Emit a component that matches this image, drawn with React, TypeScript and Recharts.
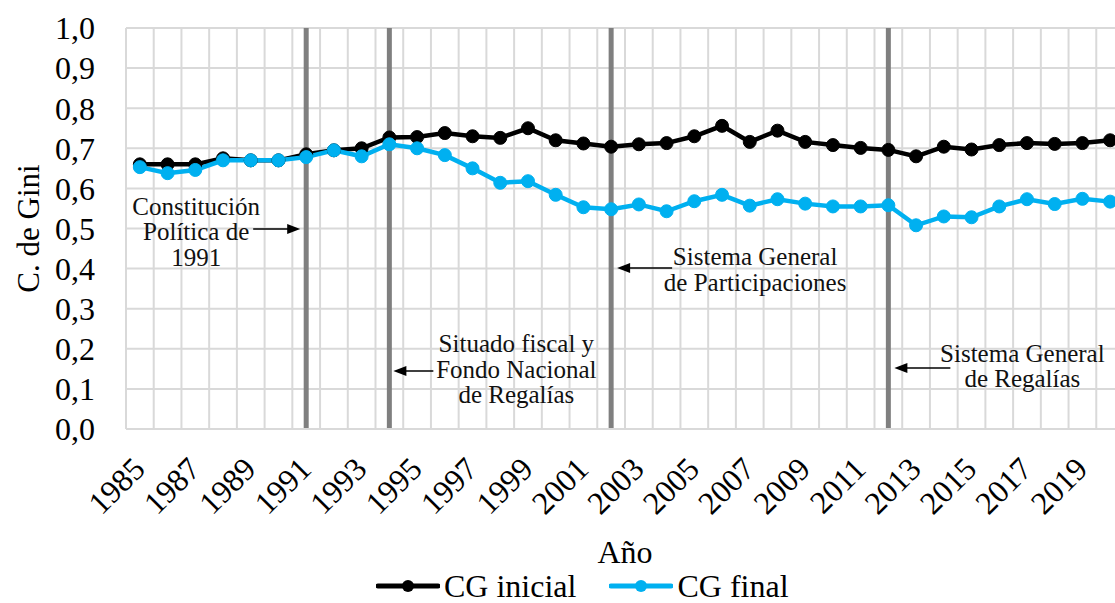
import { LineChart, Line, XAxis, YAxis, CartesianGrid, ReferenceLine, Legend } from "recharts";

const years = [
  "1985", "1986", "1987", "1988", "1989", "1990", "1991", "1992", "1993", "1994",
  "1995", "1996", "1997", "1998", "1999", "2000", "2001", "2002", "2003", "2004",
  "2005", "2006", "2007", "2008", "2009", "2010", "2011", "2012", "2013", "2014",
  "2015", "2016", "2017", "2018", "2019", "2020",
];

const cgInicial = [
  0.66, 0.66, 0.66, 0.675, 0.67, 0.67, 0.685, 0.695, 0.7, 0.727,
  0.728, 0.738, 0.73, 0.726, 0.75, 0.72, 0.712, 0.704, 0.71, 0.713,
  0.73, 0.756, 0.716, 0.744, 0.716, 0.708, 0.701, 0.696, 0.68, 0.704,
  0.697, 0.708, 0.713, 0.711, 0.713, 0.72,
];

const cgFinal = [
  0.653, 0.638, 0.646, 0.67, 0.67, 0.67, 0.678, 0.695, 0.68, 0.71,
  0.7, 0.683, 0.65, 0.614, 0.618, 0.584, 0.553, 0.548, 0.56, 0.543,
  0.568, 0.584, 0.557, 0.573, 0.562, 0.555, 0.555, 0.558, 0.508, 0.53,
  0.528, 0.555, 0.573, 0.561, 0.574, 0.567,
];

const yTicks = [0, 0.1, 0.2, 0.3, 0.4, 0.5, 0.6, 0.7, 0.8, 0.9, 1];

const events = [
  { year: "1991", text: ["Constitución", "Política de", "1991"] },
  { year: "1994", text: ["Situado fiscal y", "Fondo Nacional", "de Regalías"] },
  { year: "2002", text: ["Sistema General", "de Participaciones"] },
  { year: "2012", text: ["Sistema General", "de Regalías"] },
];

const data = years.map((year, i) => ({ year, inicial: cgInicial[i], final: cgFinal[i] }));

const FONT = '"Liberation Serif", "Times New Roman", serif';
const BLUE = "#00b0f0";

// where each note sits relative to its event line (dx: text centre, ys: baselines from plot top)
const noteLayout: Record<string, any> = {
  "1991": { dx: -110, ys: [187, 212, 238], ay: 201, tip: -6, tail: -53 },
  "1994": { dx: 127, ys: [324, 350, 375], ay: 343, tip: 4, tail: 44 },
  "2002": { dx: 144, ys: [237, 263], ay: 240, tip: 6, tail: 61 },
  "2012": { dx: 134, ys: [334, 359], ay: 340, tip: 6, tail: 62 },
};

function Note({ viewBox, year, text }: any) {
  if (!viewBox) return null;
  const L = noteLayout[year];
  const x = viewBox.x;
  const top = viewBox.y;
  const s = Math.sign(L.tip - L.tail);
  const tipX = x + L.tip;
  const ay = top + L.ay;
  return (
    <g>
      <line x1={x + L.tail} y1={ay} x2={tipX - s * 10} y2={ay} stroke="#000" strokeWidth={1.5} />
      <polygon
        points={`${tipX},${ay} ${tipX - s * 13},${ay - 5} ${tipX - s * 13},${ay + 5}`}
        fill="#000"
      />
      {text.map((t: string, i: number) => (
        <text
          key={i}
          x={x + L.dx}
          y={top + L.ys[i]}
          textAnchor="middle"
          fontSize={25}
          fontFamily={FONT}
          fill="#111"
        >
          {t}
        </text>
      ))}
    </g>
  );
}

function XTick({ x, y, payload }: any) {
  return (
    <g transform={`translate(${x - 8},${y + 27})`}>
      <text
        x={0}
        y={0}
        dy={21}
        textAnchor="end"
        transform="rotate(-45)"
        fontSize={32}
        fontFamily={FONT}
        fill="#000"
      >
        {payload.value}
      </text>
    </g>
  );
}

function LegendItem({ color, label }: { color: string; label: string }) {
  return (
    <div style={{ display: "flex", alignItems: "center", marginRight: 33 }}>
      <svg width={64} height={16} style={{ marginRight: 4 }}>
        <line x1={2} y1={8} x2={62} y2={8} stroke={color} strokeWidth={5} strokeLinecap="round" />
        <circle cx={32} cy={8} r={6} fill={color} />
      </svg>
      <span style={{ fontFamily: FONT, fontSize: 32, color: "#000", lineHeight: "32px" }}>{label}</span>
    </div>
  );
}

function LegendBox() {
  return (
    <div style={{ display: "flex", paddingLeft: 376, marginTop: 3, height: 32, alignItems: "center" }}>
      <LegendItem color="#000" label="CG inicial" />
      <LegendItem color={BLUE} label="CG final" />
    </div>
  );
}

export default function App() {
  return (
    <div
      style={{
        position: "absolute",
        left: 0,
        top: 0,
        width: 1115,
        height: 603,
        overflow: "hidden",
        background: "#fff",
      }}
    >
      <LineChart width={1130} height={603} data={data} margin={{ top: 28, right: 6, left: 0, bottom: 0 }}>
        <CartesianGrid
          stroke="#d9d9d9"
          strokeWidth={2}
          verticalCoordinatesGenerator={({ offset }: any) =>
            Array.from({ length: years.length + 1 }, (_, i) => offset.left + (i * offset.width) / years.length)
          }
        />
        <XAxis
          dataKey="year"
          scale="band"
          interval={1}
          tick={<XTick />}
          tickLine={false}
          tickSize={0}
          tickMargin={0}
          axisLine={{ stroke: "#d9d9d9", strokeWidth: 2 }}
          height={138}
          label={{
            value: "Año",
            position: "insideBottom",
            offset: 4,
            fontSize: 32,
            fontFamily: FONT,
            fill: "#000",
          }}
        />
        <YAxis
          domain={[0, 1]}
          ticks={yTicks}
          interval={0}
          width={126}
          axisLine={false}
          tickLine={false}
          tickSize={0}
          tickMargin={31}
          tickFormatter={(v: number) => v.toFixed(1).replace(".", ",")}
          tick={{ fontSize: 32, fontFamily: FONT, fill: "#000" }}
          label={{
            content: ({ viewBox }: any) => (
              <text
                x={28}
                y={viewBox.y + viewBox.height / 2}
                transform={`rotate(-90, 28, ${viewBox.y + viewBox.height / 2})`}
                textAnchor="middle"
                dominantBaseline="central"
                fontSize={31}
                fontFamily={FONT}
                fill="#000"
              >
                C. de Gini
              </text>
            ),
          }}
        />
        {events.map((e) => (
          <ReferenceLine
            key={e.year}
            x={e.year}
            stroke="#7f7f7f"
            strokeWidth={5}
            label={(p: any) => <Note {...p} year={e.year} text={e.text} />}
          />
        ))}
        <Legend verticalAlign="bottom" height={36} content={() => <LegendBox />} />
        <Line
          dataKey="inicial"
          stroke="#000"
          strokeWidth={4.5}
          dot={{ r: 6.5, fill: "#000", stroke: "#000", strokeWidth: 1 }}
          isAnimationActive={false}
        />
        <Line
          dataKey="final"
          stroke={BLUE}
          strokeWidth={4.5}
          dot={{ r: 6.5, fill: BLUE, stroke: BLUE, strokeWidth: 1 }}
          isAnimationActive={false}
        />
      </LineChart>
    </div>
  );
}
